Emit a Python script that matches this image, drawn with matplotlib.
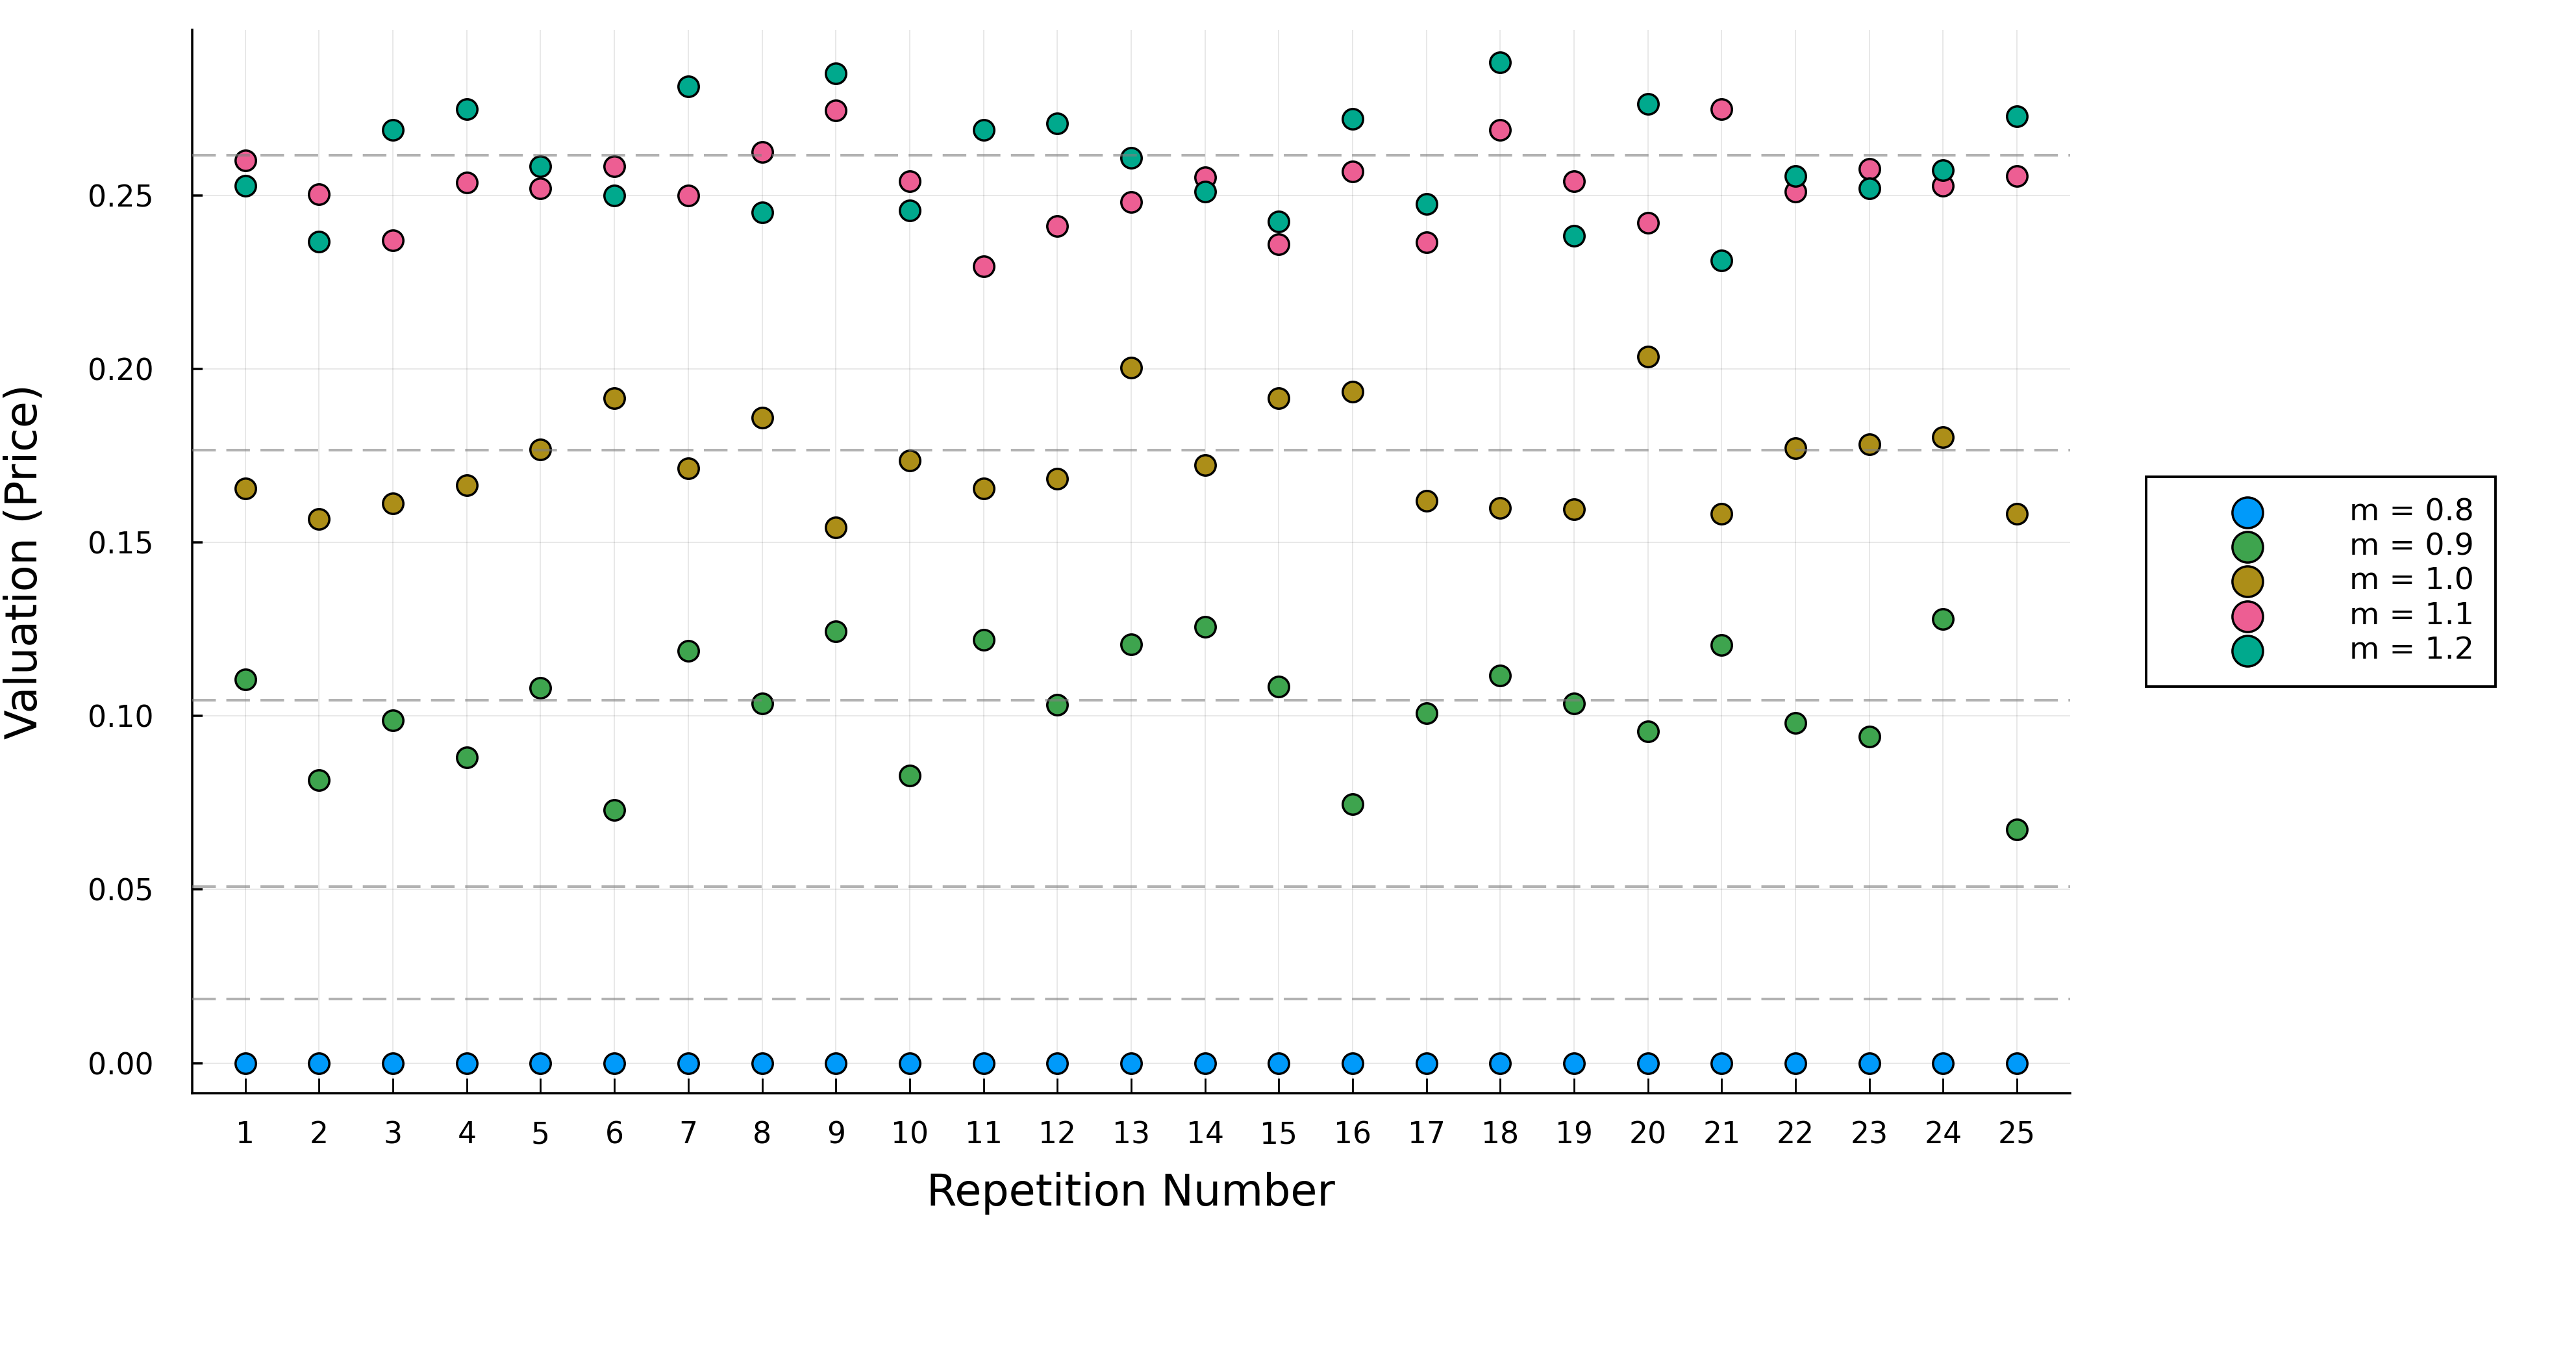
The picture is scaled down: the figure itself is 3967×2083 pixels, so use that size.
import matplotlib
matplotlib.use("Agg")
import matplotlib.pyplot as plt

# repetition index
reps = list(range(1, 26))

labels = ["m = 0.8", "m = 0.9", "m = 1.0", "m = 1.1", "m = 1.2"]
colors = ["#009AFA", "#3EA44E", "#AC8E18", "#ED5E93", "#00A98D"]

m08 = [0.0] * 25
m09 = [0.1105, 0.0815, 0.0988, 0.0881, 0.1080, 0.0729, 0.1188, 0.1036, 0.1244, 0.0828,
       0.1220, 0.1032, 0.1207, 0.1256, 0.1084, 0.0745, 0.1008, 0.1116, 0.1036, 0.0956,
       0.1204, 0.0980, 0.0940, 0.1280, 0.0673]
m10 = [0.1655, 0.1567, 0.1612, 0.1664, 0.1768, 0.1916, 0.1714, 0.1859, 0.1543, 0.1735,
       0.1655, 0.1683, 0.2003, 0.1723, 0.1916, 0.1935, 0.1619, 0.1599, 0.1595, 0.2036,
       0.1583, 0.1771, 0.1783, 0.1803, 0.1583]
m11 = [0.2601, 0.2504, 0.2371, 0.2536, 0.2520, 0.2584, 0.2500, 0.2625, 0.2744, 0.2540,
       0.2296, 0.2411, 0.2480, 0.2552, 0.2360, 0.2568, 0.2364, 0.2688, 0.2540, 0.2420,
       0.2749, 0.2511, 0.2576, 0.2528, 0.2556]
m12 = [0.2528, 0.2367, 0.2688, 0.2749, 0.2584, 0.2500, 0.2813, 0.2451, 0.2852, 0.2456,
       0.2688, 0.2708, 0.2608, 0.2511, 0.2424, 0.2720, 0.2476, 0.2884, 0.2384, 0.2764,
       0.2312, 0.2556, 0.2520, 0.2572, 0.2728]
series = [m08, m09, m10, m11, m12]

# reference levels (dashed)
hlines = [0.2616, 0.1765, 0.1045, 0.0509, 0.0185]

yticks = [0.0, 0.05, 0.10, 0.15, 0.20, 0.25]

plt.rcParams['font.family'] = ['DejaVu Sans']

fig = plt.figure(figsize=(3967 / 253, 2083 / 253), dpi=253)
ax = fig.add_axes([0.0746, 0.192, 0.8036 - 0.0746, 0.978 - 0.192])

for vals, lab, col in zip(series, labels, colors):
    ax.scatter(reps, vals, s=80, color=col, edgecolors="black", linewidths=1.0,
               label=lab, zorder=3)

for h in hlines:
    ax.axhline(h, color="#808080", alpha=0.6, lw=1.15, dashes=(9, 4), zorder=4)

ax.set_xlim(0.28, 25.72)
ax.set_ylim(-0.0087, 0.2977)
ax.set_xticks(reps)
ax.set_yticks(yticks)
ax.set_yticklabels([f"{t:.2f}" for t in yticks])

ax.grid(True, color="black", alpha=0.1, lw=0.5)
ax.set_axisbelow(True)
for s in ["top", "right"]:
    ax.spines[s].set_visible(False)
for s in ["left", "bottom"]:
    ax.spines[s].set_linewidth(1.0)

ax.tick_params(axis="x", direction="in", length=6.5, width=0.8, labelsize=13, pad=12)
ax.tick_params(axis="y", direction="in", length=4.5, width=1.0, labelsize=13, pad=17)

ax.set_xlabel("Repetition Number", fontsize=19)
ax.xaxis.label.set_va("center")
ax.xaxis.set_label_coords(0.5, -0.094)
ax.set_ylabel("Valuation (Price)", fontsize=19)
ax.yaxis.label.set_va("center")
ax.yaxis.set_label_coords(-0.0895, 0.5)

leg = ax.legend(loc="upper left", bbox_to_anchor=(0.833, 0.6476), bbox_transform=fig.transFigure,
                borderaxespad=0, fontsize=13.5, handlelength=5.2, handletextpad=0.72,
                labelspacing=0.17, borderpad=0.69, markerscale=1.5, fancybox=False,
                edgecolor="black", framealpha=1)
leg.get_frame().set_linewidth(1.1)

fig.savefig("out.png", dpi=253)
